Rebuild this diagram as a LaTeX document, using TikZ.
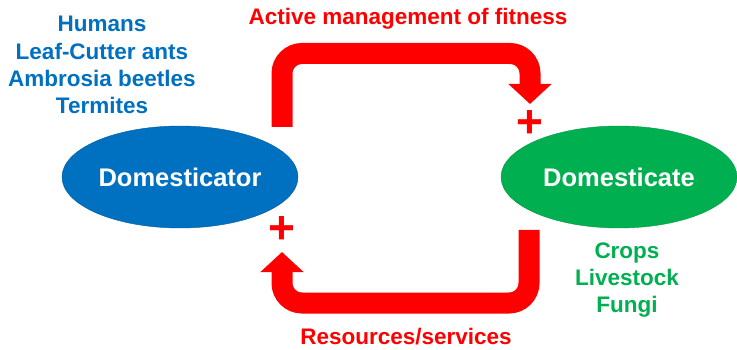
\documentclass[tikz,border=0pt]{standalone}
\usepackage{fontspec}
\setmainfont{Liberation Sans}
\usetikzlibrary{positioning, arrows.meta, shapes.geometric}
\definecolor{dtorblue}{HTML}{0070C0}
\definecolor{dcategreen}{HTML}{00B050}
\definecolor{flowred}{HTML}{FF0000}

\begin{document}
\begin{tikzpicture}[x=1pt, y=-1pt,
    party/.style={ellipse, minimum width=236pt, minimum height=102pt, inner sep=0pt,
        text=white, font=\fontsize{25.5}{30}\selectfont\bfseries},
    listtext/.style={font=\fontsize{22.5}{27.2}\selectfont\bfseries, align=center, inner sep=0pt},
    flowlabel/.style={font=\fontsize{22.5}{27}\selectfont\bfseries, text=flowred, inner sep=0pt, anchor=base},
    plussign/.style={font=\fontsize{46}{46}\selectfont\bfseries, text=flowred, inner sep=0pt},
    flow/.style={flowred, line width=21pt, rounded corners=20pt, -{Triangle[width=42pt, length=20pt]}}
]
\useasboundingbox (0,0) rectangle (737,350);

% The two partners of the mutualism
\node[party, fill=dtorblue, draw=dtorblue!80!black] (dtor) at (180,177) {Domesticator};
\node[party, fill=dcategreen, draw=dcategreen!85!black] (dcate) at (619,177) {Domesticate};

% Who plays each role
\node[listtext, text=dtorblue] (hosts) at (102,65) {Humans\\Leaf-Cutter ants\\Ambrosia beetles\\Termites};
\node[listtext, text=dcategreen] (kept) at (627,280) {Crops\\Livestock\\Fungi};

% Ends of the two feedback arrows
\coordinate (top-start) at (282,127);
\coordinate (top-end) at (530,104);
\coordinate (bot-start) at (529,230);
\coordinate (bot-end) at (282,252);

% Top loop: domesticator -> domesticate
\draw[flow] (top-start) |- (top-end |- 0,53.5) -- (top-end);
\node[flowlabel] (manage) at (408,25) {Active management of fitness};
\node[plussign] (plus-top) at (530,124) {+};

% Bottom loop: domesticate -> domesticator
\draw[flow] (bot-start) |- (bot-end |- 0,303) -- (bot-end);
\node[flowlabel] (resource) at (406,344) {Resources/services};
\node[plussign] (plus-bot) at (282,230) {+};

\end{tikzpicture}
\end{document}
